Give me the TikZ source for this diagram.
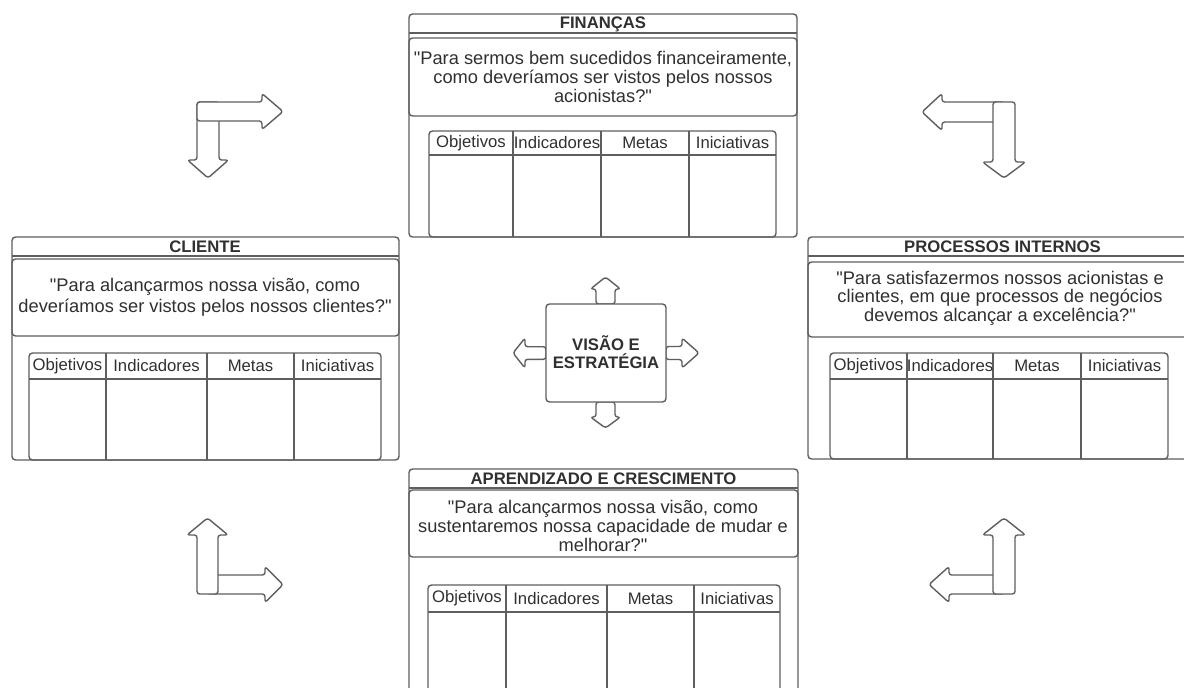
\documentclass[tikz,border=0pt]{standalone}
\usepackage{fontspec}
\setmainfont{Liberation Sans}[Ligatures=TeXOff]
\definecolor{linha}{HTML}{5E5E5E}
\definecolor{texto}{HTML}{303030}
\tikzset{
  caixa/.style={draw=linha, line width=0.8pt, rounded corners=2pt},
  divisa/.style={draw=linha, line width=0.8pt},
  seta/.style={draw=linha, fill=white, line width=0.8pt, rounded corners=1.5pt, line join=round},
  titulo/.style={font=\fontsize{9.5}{10.5}\selectfont\bfseries, text=texto, inner sep=0pt},
  pergunta/.style={font=\fontsize{10.4}{10.6}\selectfont, text=texto, align=center, inner sep=0pt},
  cabecalho/.style={font=\fontsize{9.5}{10.5}\selectfont, text=texto, inner sep=0pt},
  pics/setabloco/.style n args={4}{code={
    \draw[seta] (0,-#2) -- (#1-#4,-#2) -- (#1-#4,-#3) -- (#1,0) -- (#1-#4,#3) -- (#1-#4,#2) -- (0,#2) -- cycle;}}
}
\begin{document}
\begin{tikzpicture}[x=0.02cm, y=-0.02cm]
        \path[fill=white, use as bounding box] (0,0) rectangle (1184,687);
        \clip (0,0) rectangle (1184,687);

        % financas
        \draw[caixa, fill=white] (409,14) rectangle (797,237);
        \draw[divisa] (409,33) -- (797,33);
        \draw[caixa] (409,38) rectangle (797,116);
        \node[titulo] (financas) at (603,24) {FINANÇAS};
        \node[pergunta] (pfinancas) at (603,77) {"Para sermos bem sucedidos financeiramente,\\como deveríamos ser vistos pelos nossos\\acionistas?"};
        \draw[caixa] (429,131) rectangle (776,237);
        \draw[divisa] (429,155) -- (776,155);
        \foreach \x in {513,601,689} \draw[divisa] (\x,131) -- (\x,237);
        \foreach \x/\t in {471/Objetivos,557/Indicadores,645/Metas,732.5/Iniciativas}
            \node[cabecalho] (fin-\t) at (\x,143) {\t};

        % cliente
        \draw[caixa, fill=white] (12,237) rectangle (399,460);
        \draw[divisa] (12,256) -- (399,256);
        \draw[caixa] (12,259) rectangle (399,336);
        \node[titulo] (cliente) at (205,247) {CLIENTE};
        \node[pergunta] (pcliente) at (205,297) {"Para alcançarmos nossa visão, como\\[1.3pt]deveríamos ser vistos pelos nossos clientes?"};
        \draw[caixa] (29,353) rectangle (381,460);
        \draw[divisa] (29,379) -- (381,379);
        \foreach \x in {106,207,294} \draw[divisa] (\x,353) -- (\x,460);
        \foreach \x/\t in {67.5/Objetivos,156.5/Indicadores,250.5/Metas,337.5/Iniciativas}
            \node[cabecalho] (cli-\t) at (\x,366) {\t};

        % processos internos
        \draw[caixa, fill=white] (808,237) rectangle (1197,459);
        \draw[divisa] (808,256) -- (1197,256);
        \draw[caixa] (808,262) rectangle (1197,337);
        \node[titulo] (processos) at (1002.5,247) {PROCESSOS INTERNOS};
        \node[pergunta] (pprocessos) at (1000,298) {"Para satisfazermos nossos acionistas e\\clientes, em que processos de negócios\\devemos alcançar a excelência?"};
        \draw[caixa] (830,353) rectangle (1168,459);
        \draw[divisa] (830,379) -- (1168,379);
        \foreach \x in {907,993,1081} \draw[divisa] (\x,353) -- (\x,459);
        \foreach \x/\t in {868.5/Objetivos,950/Indicadores,1037/Metas,1124.5/Iniciativas}
            \node[cabecalho] (pro-\t) at (\x,366) {\t};

        % aprendizado e crescimento
        \draw[caixa, fill=white] (409,469) rectangle (798,700);
        \draw[divisa] (409,488) -- (798,488);
        \draw[caixa] (409,490) rectangle (798,557);
        \node[titulo] (aprendizado) at (603.5,479) {APRENDIZADO E CRESCIMENTO};
        \node[pergunta] (paprendizado) at (603,526) {"Para alcançarmos nossa visão, como\\sustentaremos nossa capacidade de mudar e\\melhorar?"};
        \draw[caixa] (428,585) rectangle (780,700);
        \draw[divisa] (428,612) -- (780,612);
        \foreach \x in {506,607,694} \draw[divisa] (\x,585) -- (\x,700);
        \foreach \x/\t in {467/Objetivos,556.5/Indicadores,650.5/Metas,737/Iniciativas}
            \node[cabecalho] (apr-\t) at (\x,598.5) {\t};

        % visao e estrategia
        \pic[rotate=90] at (605.5,304) {setabloco={27}{9.5}{15}{12}};
        \pic[rotate=-90] at (605.5,402) {setabloco={26}{9.5}{15}{11}};
        \pic[rotate=180] at (546,353) {setabloco={33}{6.3}{15}{12}};
        \pic at (666,353) {setabloco={33}{6.5}{15}{17}};
        \draw[caixa, fill=white] (546,304) rectangle (666,402);
        \node[titulo, align=center] (visao) at (606,352) {VISÃO E\\ESTRATÉGIA};

        % setas dos cantos
        \pic[rotate=-90] at (208,102) {setabloco={76}{11}{20.5}{18}};
        \pic at (197,111.5) {setabloco={86}{9.5}{18}{21}};

        \pic[rotate=180] at (1004,112) {setabloco={82}{10}{18.5}{20}};
        \pic[rotate=-90] at (1004,102) {setabloco={76}{11}{21.5}{16}};

        \pic at (207.5,584.5) {setabloco={75.5}{9.5}{18}{18}};
        \pic[rotate=90] at (207.5,594) {setabloco={76}{10.5}{20.5}{17}};

        \pic[rotate=180] at (1004,584.5) {setabloco={75}{9.5}{18}{20}};
        \pic[rotate=90] at (1004,594) {setabloco={76}{11}{21.5}{17}};
\end{tikzpicture}
\end{document}
